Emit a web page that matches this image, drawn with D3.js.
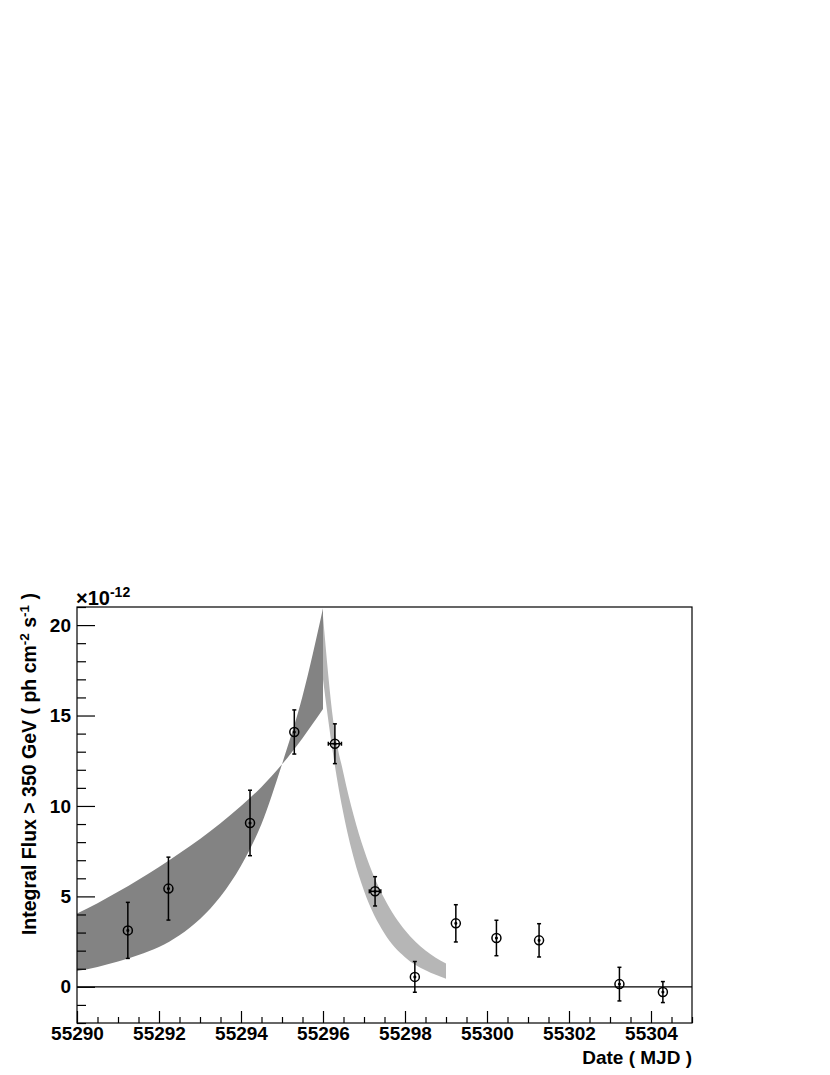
<!DOCTYPE html>
<html><head><meta charset="utf-8">
<script src="https://cdn.jsdelivr.net/npm/d3@7"></script>
<style>
body{margin:0;background:#fff;}
text{font-family:"Liberation Sans",Arial,Helvetica,sans-serif;font-weight:bold;fill:#000;}
</style>
</head><body>
<svg id="c" width="830" height="1075"></svg>
<script>
// ---- data ----
const mjd      = [55291.24, 55292.23, 55294.22, 55295.30, 55296.29, 55297.27, 55298.24, 55299.24, 55300.23, 55301.27, 55303.23, 55304.29];
const flux     = [3.12, 5.43, 9.06, 14.09, 13.44, 5.28, 0.55, 3.51, 2.70, 2.57, 0.15, -0.29];
const fluxErr  = [1.55, 1.74, 1.81, 1.22, 1.10, 0.81, 0.85, 1.03, 0.98, 0.92, 0.93, 0.58];
const mjdErr   = [0, 0, 0, 0, 0.16, 0.14, 0, 0, 0, 0, 0, 0];

// rising band (two edges that cross near 55295)
const riseT    = [55290, 55290.5, 55291, 55291.5, 55292, 55292.5, 55293, 55293.5, 55294, 55294.5, 55295, 55295.5, 55296];
const riseA    = [4.05, 4.62, 5.25, 5.92, 6.62, 7.38, 8.18, 9.05, 10.0, 11.05, 12.3, 13.75, 15.36];
const riseB    = [0.87, 1.1, 1.4, 1.76, 2.2, 2.85, 3.75, 5.0, 6.7, 9.0, 12.3, 16.06, 20.93];

// decaying band
const decayT     = [55296, 55296.25, 55296.5, 55296.75, 55297, 55297.5, 55298, 55298.5, 55299];
const decayUpper = [20.5, 14.7, 11.8, 9.46, 7.58, 4.87, 3.13, 2.01, 1.29];
const decayLower = [17.0, 12.8, 9.55, 7.12, 5.31, 2.95, 1.64, 0.91, 0.45];

const xMajor = [55290, 55292, 55294, 55296, 55298, 55300, 55302, 55304];
const yMajor = [0, 5, 10, 15, 20];

// ---- layout ----
const X0 = 77, X1 = 692, Y0 = 607, Y1 = 1023;
const x = d3.scaleLinear().domain([55290, 55305]).range([X0, X1]);
const y = d3.scaleLinear().domain([-2, 21]).range([Y1, Y0]);
const svg = d3.select('#c');

const defs = svg.append('defs');
defs.append('clipPath').attr('id', 'plotClip').append('rect')
  .attr('x', X0).attr('y', Y0).attr('width', X1 - X0).attr('height', Y1 - Y0);

const g = svg.append('g').attr('clip-path', 'url(#plotClip)');

// decay band
const decayArea = d3.area().x((d, i) => x(decayT[i])).y0((d, i) => y(decayLower[i])).y1((d, i) => y(decayUpper[i]))
  .curve(d3.curveMonotoneX);
g.append('path').attr('d', decayArea(decayT)).attr('fill', '#b6b6b6');

// rise band
const riseArea = d3.area().x((d, i) => x(riseT[i])).y0((d, i) => y(riseB[i])).y1((d, i) => y(riseA[i]))
  .curve(d3.curveMonotoneX);
g.append('path').attr('d', riseArea(riseT)).attr('fill', '#838383');

// zero line
g.append('line').attr('x1', X0).attr('x2', X1).attr('y1', y(0)).attr('y2', y(0))
  .attr('stroke', '#000').attr('stroke-width', 1.2);

// data points
const pts = g.append('g').attr('stroke', '#000').attr('fill', 'none').attr('stroke-width', 1.5);
mjd.forEach((t, i) => {
  const cx = x(t), cy = y(flux[i]);
  const yt = y(flux[i] + fluxErr[i]), yb = y(flux[i] - fluxErr[i]);
  pts.append('line').attr('x1', cx).attr('x2', cx).attr('y1', yt).attr('y2', yb);
  pts.append('line').attr('x1', cx - 2).attr('x2', cx + 2).attr('y1', yt).attr('y2', yt);
  pts.append('line').attr('x1', cx - 2).attr('x2', cx + 2).attr('y1', yb).attr('y2', yb);
  if (mjdErr[i] > 0) {
    const xl = x(t - mjdErr[i]), xr = x(t + mjdErr[i]);
    pts.append('line').attr('x1', xl).attr('x2', xr).attr('y1', cy).attr('y2', cy);
    pts.append('line').attr('x1', xl).attr('x2', xl).attr('y1', cy - 2).attr('y2', cy + 2);
    pts.append('line').attr('x1', xr).attr('x2', xr).attr('y1', cy - 2).attr('y2', cy + 2);
  }
  pts.append('circle').attr('cx', cx).attr('cy', cy).attr('r', 4.5);
  pts.append('circle').attr('cx', cx).attr('cy', cy).attr('r', 0.8).attr('fill', '#000');
});

// frame
svg.append('rect').attr('x', X0).attr('y', Y0).attr('width', X1 - X0).attr('height', Y1 - Y0)
  .attr('fill', 'none').attr('stroke', '#000').attr('stroke-width', 1.2);

// axes
const xAxis = svg.append('g').attr('transform', `translate(0,${Y1})`)
  .call(d3.axisBottom(x).tickValues(xMajor).tickSize(-12).tickPadding(4).tickFormat(d3.format('d')));
const xMinor = svg.append('g').attr('transform', `translate(0,${Y1})`)
  .call(d3.axisBottom(x).tickValues(d3.range(55290, 55305.01, 0.5).filter(v => v % 2 !== 0)).tickSize(-6).tickFormat(''));
const yAxis = svg.append('g').attr('transform', `translate(${X0},0)`)
  .call(d3.axisLeft(y).tickValues(yMajor).tickSize(-18).tickPadding(6));
const yMinor = svg.append('g').attr('transform', `translate(${X0},0)`)
  .call(d3.axisLeft(y).tickValues(d3.range(-2, 21.01, 1).filter(v => v % 5 !== 0)).tickSize(-9).tickFormat(''));
[xAxis, xMinor, yAxis, yMinor].forEach(a => {
  a.select('.domain').remove();
  a.selectAll('line').attr('stroke', '#000').attr('stroke-width', 1.2);
  a.selectAll('text').attr('font-size', 19).attr('font-family', '"Liberation Sans",Arial,sans-serif')
    .attr('font-weight', 'bold').attr('fill', '#000');
});

// exponent label
const ex = svg.append('text').attr('x', X0 - 1).attr('y', 605).attr('font-size', 20);
ex.append('tspan').text('\u00d710');
ex.append('tspan').attr('dy', -8).attr('font-size', 14).text('-12');

// x title
svg.append('text').attr('x', X1).attr('y', 1064).attr('text-anchor', 'end').attr('font-size', 19)
  .text('Date ( MJD )');

// y title
const yt = svg.append('text').attr('transform', 'translate(35.5,764) rotate(-90)')
  .attr('text-anchor', 'middle').attr('font-size', 19.5);
yt.append('tspan').text('Integral Flux > 350 GeV ( ph cm');
yt.append('tspan').attr('dy', -7).attr('font-size', 13.5).text('-2');
yt.append('tspan').attr('dy', 7).text(' s');
yt.append('tspan').attr('dy', -7).attr('font-size', 13.5).text('-1');
yt.append('tspan').attr('dy', 7).text(' )');
</script>
</body></html>
